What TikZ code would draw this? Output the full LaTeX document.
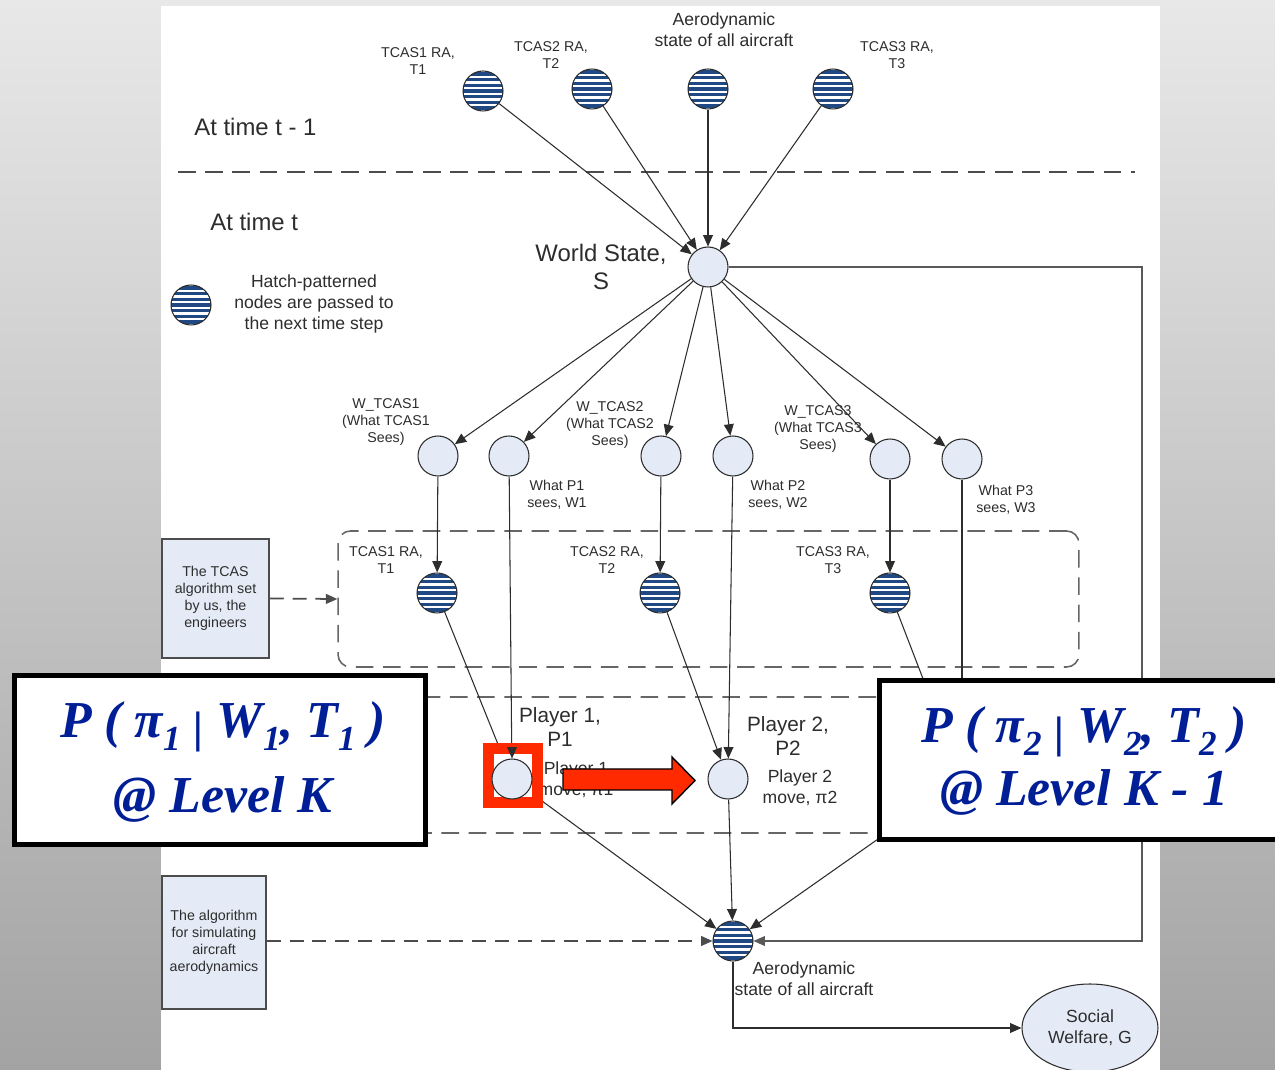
\documentclass[tikz,border=0pt]{standalone}
\usepackage{fontspec}
\usepackage{graphicx}
\setmainfont{Liberation Sans}
\newfontfamily\ovfont{Liberation Serif}
\usetikzlibrary{arrows.meta,calc,shapes.geometric}

\definecolor{nodefill}{RGB}{229,235,246}
\definecolor{hatchblue}{RGB}{32,72,130}
\definecolor{ovblue}{RGB}{0,30,150}
\definecolor{markred}{RGB}{255,42,0}
\definecolor{bgtop}{RGB}{232,232,232}
\definecolor{bgbot}{RGB}{163,163,163}
\definecolor{ink}{RGB}{45,45,45}

% lowered, smaller digit used as a subscript in the big formulas
\newcommand\ovsub[1]{\raisebox{-0.26em}{\fontsize{20}{20}\selectfont #1}}
% conditioning bar, a little shorter than the full-height glyph
\newcommand\ovbar{\raisebox{-0.1em}{\scalebox{0.9}[0.85]{|}}}

\tikzset{
  plainnode/.style={circle, draw=ink, line width=0.6pt, fill=nodefill,
    minimum size=0.8cm, inner sep=0pt},
  hatchnode/.style={circle, draw=ink, line width=0.6pt, fill=white,
    minimum size=0.8cm, inner sep=0pt,
    path picture={\foreach \k in {-3,...,3}{
      \fill[hatchblue] ($(path picture bounding box.center)+(-0.5cm,{(\k*5.7-1.7)*0.02cm})$)
        rectangle ++(1cm,0.068cm);}}},
  small/.style={font=\fontsize{8.1}{9.6}\selectfont, align=center, inner sep=0pt, text=ink},
  medium/.style={font=\fontsize{10}{12.2}\selectfont, align=center, inner sep=0pt, text=ink},
  large/.style={font=\fontsize{13.6}{16.4}\selectfont, align=center, inner sep=0pt, text=ink},
  player/.style={font=\fontsize{11.8}{13.6}\selectfont, align=center, inner sep=0pt, text=ink},
  algbox/.style={rectangle, draw=ink!85, line width=0.8pt, fill=nodefill, align=center,
    font=\fontsize{8.1}{9.6}\selectfont, inner sep=0pt, text=ink},
  conn/.style={draw=ink, line width=0.6pt},
  arr/.style={conn, -{Triangle[length=6.5pt,width=5.6pt]}},
  grpbox/.style={rectangle, rounded corners=7pt, draw=black!60, line width=0.9pt,
    dash pattern=on 10pt off 5.5pt, inner sep=0pt},
  darr/.style={draw=black!70, line width=1pt, dash pattern=on 8pt off 5pt,
    -{Triangle[length=6.5pt,width=5.6pt]}},
  sepline/.style={draw=black!70, line width=1pt, dash pattern=on 10pt off 5.5pt},
  ovbox/.style={rectangle, draw=black, line width=2.85pt, fill=white, inner sep=0pt},
  ovtextA/.style={font=\ovfont\fontsize{29.5}{43}\bfseries\itshape\selectfont,
    text=ovblue, align=center, inner sep=0pt},
  ovtextB/.style={font=\ovfont\fontsize{29.5}{36.3}\bfseries\itshape\selectfont,
    text=ovblue, align=center, inner sep=0pt},
}

\begin{document}
\begin{tikzpicture}[x=0.02cm,y=-0.02cm]
\useasboundingbox (0,0) rectangle (1275,1070);
\clip (0,0) rectangle (1275,1070);

% backdrop and page
\shade[top color=bgtop, bottom color=bgbot] (0,0) rectangle (1275,1070);
\fill[white] (161,6) rectangle (1160,1075);

% ---- time t-1 ----
\node[hatchnode] (h1) at (483,91) {};
\node[hatchnode] (h2) at (592,89) {};
\node[hatchnode] (h3) at (708,89) {};
\node[hatchnode] (h4) at (833,89) {};
\node[small] (h1lbl) at (418,61) {TCAS1 RA,\\T1};
\node[small] (h2lbl) at (551,55) {TCAS2 RA,\\T2};
\node[medium] (h3lbl) at (724,30) {Aerodynamic\\state of all aircraft};
\node[small] (h4lbl) at (897,55) {TCAS3 RA,\\T3};

\node[large, anchor=west] (tprev) at (194,127) {At time t - 1};
\coordinate (sepL) at (178,172);
\coordinate (sepR) at (1135,172);
\draw[sepline] (sepL) -- (sepR);
\node[large, anchor=west] (tnow) at (210,222) {At time t};

% legend
\node[hatchnode] (leg) at (191,305) {};
\node[medium] (legtxt) at (314,304) {Hatch-patterned\\nodes are passed to\\the next time step};

% world state
\node[large] (wslbl) at (601,267) {World State,\\S};
\node[plainnode] (ws) at (708,267) {};

% what each agent sees
\node[plainnode] (wt1) at (438,456) {};
\node[plainnode] (wp1) at (509,456) {};
\node[plainnode] (wt2) at (661,456) {};
\node[plainnode] (wp2) at (733,456) {};
\node[plainnode] (wt3) at (890,459) {};
\node[plainnode] (wp3) at (962,459) {};
\node[small] (wt1lbl) at (386,422) {W\_TCAS1\\(What TCAS1\\Sees)};
\node[small] (wp1lbl) at (557,495) {What P1\\sees, W1};
\node[small] (wt2lbl) at (610,425) {W\_TCAS2\\(What TCAS2\\Sees)};
\node[small] (wp2lbl) at (778,495) {What P2\\sees, W2};
\node[small] (wt3lbl) at (818,429) {W\_TCAS3\\(What TCAS3\\Sees)};
\node[small] (wp3lbl) at (1006,500) {What P3\\sees, W3};

% TCAS group
\node[grpbox, minimum width=14.82cm, minimum height=2.72cm] (tgrp) at (708.5,599) {};
\node[hatchnode] (t1) at (437,593) {};
\node[hatchnode] (t2) at (660,593) {};
\node[hatchnode] (t3) at (890,593) {};
\node[small] (t1lbl) at (386,560) {TCAS1 RA,\\T1};
\node[small] (t2lbl) at (607,560) {TCAS2 RA,\\T2};
\node[small] (t3lbl) at (833,560) {TCAS3 RA,\\T3};
\node[algbox, minimum width=2.14cm, minimum height=2.38cm] (tcasbox) at (215.5,598.5)
  {The TCAS\\algorithm set\\by us, the\\engineers};

% player group
\node[grpbox, minimum width=14.78cm, minimum height=2.72cm] (pgrp) at (709.5,765) {};
\node[plainnode] (p1) at (512,779) {};
\node[plainnode] (p2) at (728,779) {};
\node[circle, minimum size=0.8cm, inner sep=0pt] (p3) at (962,780) {};
\node[player] (p1lbl) at (560,727) {Player 1,\\P1};
\node[medium] (p1mv) at (576,780) {Player 1\\move, π1};
\node[player] (p2lbl) at (788,736) {Player 2,\\P2};
\node[medium] (p2mv) at (800,788) {Player 2\\move, π2};

% aerodynamics and welfare
\node[hatchnode] (aero) at (733,941) {};
\node[medium] (aerolbl) at (804,979) {Aerodynamic\\state of all aircraft};
\node[algbox, minimum width=2.08cm, minimum height=2.66cm] (simbox) at (214,942.5)
  {The algorithm\\for simulating\\aircraft\\aerodynamics};
\node[ellipse, draw=ink, line width=0.6pt, fill=nodefill, minimum width=2.72cm,
  minimum height=1.76cm, inner sep=0pt, align=center, text=ink,
  font=\fontsize{10}{12.2}\selectfont] (sw) at (1090,1028) {Social\\Welfare, G};

% ---- connectors ----
\foreach \s in {h1,h2,h3,h4} \draw[arr] (\s) -- (ws);
\foreach \t in {wt1,wp1,wt2,wp2,wt3,wp3} \draw[arr] (ws) -- (\t);
\draw[arr] (wt1) -- (t1);
\draw[arr] (wt2) -- (t2);
\draw[arr] (wt3) -- (t3);
\draw[arr] (t1) -- (p1);
\draw[arr] (wp1) -- (p1);
\draw[arr] (t2) -- (p2);
\draw[arr] (wp2) -- (p2);
\draw[arr] (t3) -- (p3);
\draw[arr] (wp3) -- (p3);
\draw[arr] (p1) -- (aero);
\draw[arr] (p2) -- (aero);
\draw[arr] (p3) -- (aero);
\coordinate (fbtop) at (1142,267);
\coordinate (fbbot) at (1142,941);
\draw[arr, draw=black!65] (ws) -- (fbtop) -- (fbbot) -- (aero);
\draw[darr] (tcasbox.east) -- (tgrp.west);
\draw[darr] (simbox.east |- aero.west) -- (aero.west);
\draw[arr] (aero.south) |- (sw.west);

% highlight on player 1
\coordinate (hlA) at (488.5,748.5);
\coordinate (hlB) at (537.5,802.5);
\draw[markred, line width=6.2pt, fill=white] (hlA) rectangle (hlB);
\node[plainnode] (p1face) at (p1) {};
\draw[arr] ($(p1face.north)+(0,-11)$) -- (p1face.north);

% influence arrow from player 1 to player 2
\draw[fill=markred, draw=black, line width=0.8pt]
  (563,769) -- (672,769) -- (672,757) -- (695,780.5) -- (672,804) -- (672,790) -- (563,790) -- cycle;

% formula panels
\node[ovbox, minimum width=8.22cm, minimum height=3.38cm] (ov1) at (220,760) {};
\node[ovtextA] (ov1txt) at (223,762)
  {P ( π\ovsub{1} \ovbar{} W\ovsub{1}, T\ovsub{1} )\\@ Level K};
\node[ovbox, minimum width=8.31cm, minimum height=3.18cm] (ov2) at (1087.25,760) {};
\node[ovtextB] (ov2txt) at (1084,761)
  {P ( π\ovsub{2} \ovbar{} W\ovsub{2}, T\ovsub{2} )\\@ Level K - 1};
\end{tikzpicture}
\end{document}
